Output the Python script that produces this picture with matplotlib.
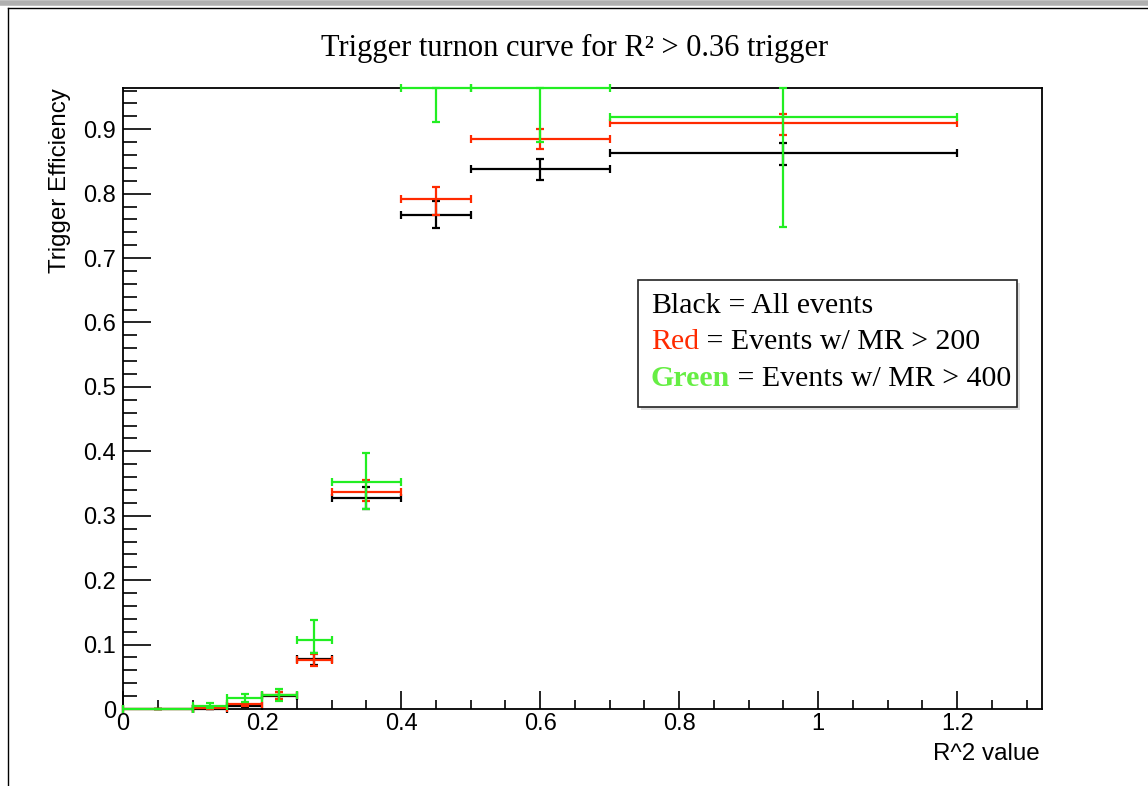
import matplotlib
matplotlib.use('Agg')
import matplotlib.pyplot as plt
from matplotlib.ticker import MultipleLocator, FuncFormatter
from matplotlib.patches import Rectangle
from matplotlib.lines import Line2D

# R^2 bins (centre and half width)
bin_center = [0.05, 0.125, 0.175, 0.225, 0.275, 0.35, 0.45, 0.6, 0.95]
bin_half = [0.05, 0.025, 0.025, 0.025, 0.025, 0.05, 0.05, 0.1, 0.25]

# all events (black)
eff_all = [0.0, 0.0, 0.005, 0.020, 0.077, 0.327, 0.767, 0.839, 0.863]
err_all_lo = [0.0, 0.0, 0.002, 0.005, 0.009, 0.016, 0.020, 0.018, 0.018]
err_all_hi = [0.0, 0.0, 0.003, 0.006, 0.010, 0.017, 0.022, 0.015, 0.015]

# MR > 200 (red)
eff_200 = [0.0, 0.001, 0.007, 0.021, 0.076, 0.337, 0.791, 0.885, 0.909]
err_200_lo = [0.0, 0.001, 0.002, 0.005, 0.009, 0.014, 0.024, 0.015, 0.018]
err_200_hi = [0.0, 0.002, 0.003, 0.006, 0.010, 0.018, 0.020, 0.015, 0.015]

# MR > 400 (green)
eff_400 = [0.0, 0.005, 0.0166, 0.0217, 0.107, 0.353, 0.964, 0.964, 0.919]
err_400_lo = [0.0, 0.003, 0.006, 0.009, 0.020, 0.042, 0.053, 0.084, 0.171]
err_400_hi = [0.0, 0.004, 0.007, 0.009, 0.031, 0.044, 0.0, 0.0, 0.045]

W, H = 1148, 786
fig = plt.figure(figsize=(W / 100, H / 100), dpi=100)
ax = fig.add_axes([123 / W, 77 / H, 919 / W, 621 / H])

series = [
    (eff_all, err_all_lo, err_all_hi, 'black'),
    (eff_200, err_200_lo, err_200_hi, '#ff2a00'),
    (eff_400, err_400_lo, err_400_hi, '#22ee22'),
]
for eff, lo, hi, col in series:
    ax.errorbar(bin_center, eff, xerr=bin_half, yerr=[lo, hi], fmt='none',
                ecolor=col, elinewidth=1.6, capsize=3, capthick=1.6,
                clip_on=False, zorder=3)

ax.set_xlim(0, 1.322)
ax.set_ylim(0, 0.964)

ax.xaxis.set_major_locator(MultipleLocator(0.2))
ax.xaxis.set_minor_locator(MultipleLocator(0.05))
ax.yaxis.set_major_locator(MultipleLocator(0.1))
ax.yaxis.set_minor_locator(MultipleLocator(0.02))
fmt = FuncFormatter(lambda v, p: '%g' % round(v, 3))
ax.xaxis.set_major_formatter(fmt)
ax.yaxis.set_major_formatter(fmt)

ax.tick_params(axis='x', which='major', direction='in', length=13, width=1.2,
               labelsize=17, pad=3)
ax.tick_params(axis='x', which='minor', direction='in', length=6.5, width=1.2)
ax.tick_params(axis='y', which='major', direction='in', length=20, width=1.2,
               labelsize=17, pad=5)
ax.tick_params(axis='y', which='minor', direction='in', length=10, width=1.2)
for lab in ax.get_xticklabels() + ax.get_yticklabels():
    lab.set_family('Liberation Sans')
for s in ax.spines.values():
    s.set_linewidth(1.3)

fig.text(60 / W, 1 - 88 / H, 'Trigger Efficiency', rotation=90, ha='center',
         va='top', fontsize=17.4, family='Liberation Sans')
fig.text(1040 / W, 1 - 754 / H, 'R^2 value', ha='right', va='center',
         fontsize=17.4, family='Liberation Sans')

fig.text(575 / W, 1 - 48 / H, 'Trigger turnon curve for R² > 0.36 trigger',
         ha='center', va='center', fontsize=22, family='Liberation Serif')

# text box
shadow = Rectangle((641 / W, 1 - 410 / H), 379 / W, 127 / H,
                   transform=fig.transFigure, facecolor='#dddddd',
                   edgecolor='none', zorder=4)
box = Rectangle((638 / W, 1 - 407 / H), 379 / W, 127 / H,
                transform=fig.transFigure, facecolor='white',
                edgecolor='#222222', linewidth=1.2, zorder=5)
fig.patches.extend([shadow, box])

lines = [
    [('Black', 'black', 'normal'), (' = All events', 'black', 'normal')],
    [('Red', '#ff2a00', 'normal'), (' = Events w/ MR > 200', 'black', 'normal')],
    [('Green', '#66ee44', 'bold'), (' = Events w/ MR > 400', 'black', 'normal')],
]
ys = [306, 342, 378]
for parts, y in zip(lines, ys):
    prev = None
    for txt, col, wt in parts:
        if prev is None:
            prev = fig.text(651 / W, 1 - y / H, txt, color=col, weight=wt,
                            ha='left', va='center', fontsize=21.5,
                            family='Liberation Serif', zorder=6)
        else:
            prev = fig.add_artist(plt.Annotation(
                txt, xy=(1, 0), xycoords=prev, ha='left', va='bottom',
                color=col, weight=wt, fontsize=21.5, family='Liberation Serif',
                zorder=6))

# window frame
fig.add_artist(Line2D([0, 1], [1 - 3 / H, 1 - 3 / H], transform=fig.transFigure,
                      color='#b0b0b0', linewidth=4))
fig.add_artist(Line2D([8 / W, 1], [1 - 8 / H, 1 - 8 / H], transform=fig.transFigure,
                      color='black', linewidth=1))
fig.add_artist(Line2D([8 / W, 8 / W], [0, 1 - 8 / H], transform=fig.transFigure,
                      color='black', linewidth=1))

fig.savefig('out.png', dpi=100)
